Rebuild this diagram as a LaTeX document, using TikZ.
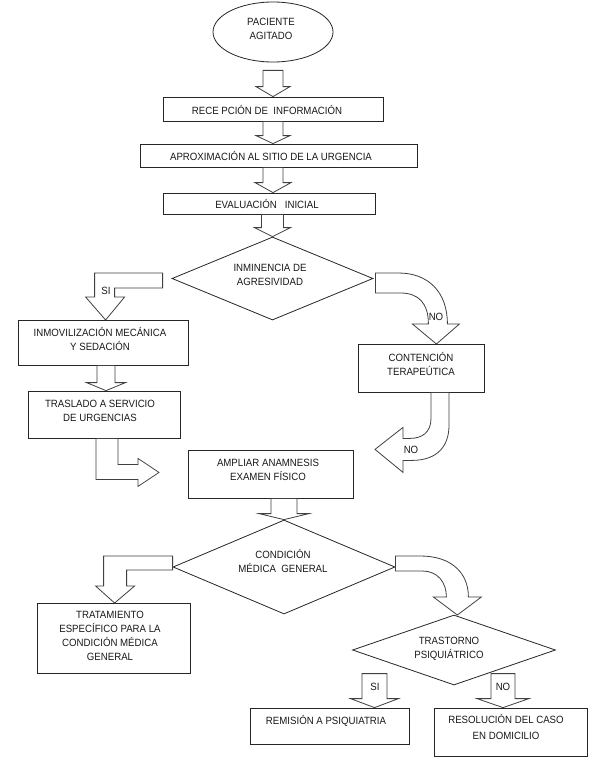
\documentclass[tikz,border=0pt]{standalone}
\usepackage{fontspec}
\setmainfont{Liberation Sans}[FakeStretch=0.92]
\usetikzlibrary{shapes.geometric,calc}
\tikzset{
  box/.style={draw=black!85, line width=0.8pt, rectangle, inner sep=0pt},
  dia/.style={draw=black!85, line width=0.8pt, diamond, inner sep=0pt},
  txt/.style={align=center, inner sep=0pt, font=\fontsize{10.5}{14}\selectfont, text=black!90},
  blk/.style={draw=black!75, line width=0.8pt, line join=miter},
  lbl/.style={inner sep=0pt, font=\fontsize{10.5}{12}\selectfont, text=black!90}
}
% straight downward block arrow: start point, point giving tip height, half shaft, half head, head length
\newcommand\dnblk[5]{\draw[blk] let \p1=(#1), \p2=(#2) in
  ({\x1-#3pt},\y1) -- ({\x1+#3pt},\y1) -- ({\x1+#3pt},{\y2+#5pt}) -- ({\x1+#4pt},{\y2+#5pt})
  -- (\x1,\y2) -- ({\x1-#4pt},{\y2+#5pt}) -- ({\x1-#3pt},{\y2+#5pt}) -- cycle;}
\begin{document}
\begin{tikzpicture}[x=1pt,y=-1pt]
\useasboundingbox[fill=white] (0,0) rectangle (597,760);

% nodes
\node[draw=black!85, line width=0.8pt, ellipse, minimum width=120pt, minimum height=60pt, inner sep=0pt] (pac) at (273,32) {};
\node[txt] (tpac) at (271,29) {PACIENTE\\AGITADO};

\node[box, minimum width=220pt, minimum height=24pt] (recep) at (273,109) {};
\node[txt] (trecep) at (267,109.5) {RECE PCIÓN DE\ \ INFORMACIÓN};

\node[box, minimum width=277pt, minimum height=23pt] (aprox) at (278.5,155.5) {};
\node[txt] (taprox) at (271,155.5) {APROXIMACIÓN AL SITIO DE LA URGENCIA};

\node[box, minimum width=212pt, minimum height=21pt] (eval) at (269,203.5) {};
\node[txt] (teval) at (267,203.5) {EVALUACIÓN\ \ \ INICIAL};

\node[dia, minimum width=201pt, minimum height=83pt] (d1) at (272.5,278.5) {};
\node[txt] (td1) at (270,275) {INMINENCIA DE\\AGRESIVIDAD};

\node[box, minimum width=170pt, minimum height=45pt] (inmov) at (103,342.5) {};
\node[txt] (tinmov) at (100,339) {INMOVILIZACIÓN MECÁNICA\\Y SEDACIÓN};

\node[box, minimum width=152pt, minimum height=47pt] (tras) at (104,414.5) {};
\node[txt] (ttras) at (100,410.5) {TRASLADO A SERVICIO\\DE URGENCIAS};

\node[box, minimum width=126pt, minimum height=48pt] (cont) at (421,368) {};
\node[txt] (tcont) at (421,364) {CONTENCIÓN\\TERAPEÚTICA};

\node[box, minimum width=165pt, minimum height=48pt] (ampl) at (270.5,474) {};
\node[txt] (tampl) at (268,470) {AMPLIAR ANAMNESIS\\EXAMEN FÍSICO};

\node[dia, minimum width=222pt, minimum height=94pt] (d2) at (284,567) {};
\node[txt] (td2) at (283,560.5) {CONDICIÓN\\MÉDICA\ \ GENERAL};

\node[box, minimum width=153pt, minimum height=70pt] (trat) at (113.5,638) {};
\node[txt] (ttrat) at (110,635.5) {TRATAMIENTO\\ESPECÍFICO PARA LA\\CONDICIÓN MÉDICA\\GENERAL};

\node[dia, minimum width=203pt, minimum height=70pt] (d3) at (454,650) {};
\node[txt] (td3) at (449,648.5) {TRASTORNO\\PSIQUIÁTRICO};

\node[box, minimum width=159pt, minimum height=36pt] (rem) at (329.5,726) {};
\node[txt] (trem) at (326,721) {REMISIÓN A PSIQUIATRIA};

\node[box, minimum width=153pt, minimum height=48pt] (res) at (510.5,732) {};
\node[txt, font=\fontsize{10.5}{16}\selectfont] (tres) at (506,726.5) {RESOLUCIÓN DEL CASO\\EN DOMICILIO};

% straight block arrows
\dnblk{$(pac.south)+(0,8)$}{recep.north}{10}{17}{10}
\dnblk{pac.south |- recep.south}{aprox.north}{10}{17}{8}
\dnblk{pac.south |- aprox.south}{eval.north}{10}{18}{10}
\dnblk{d1.north |- eval.south}{d1.north}{11}{18}{9}
\dnblk{$(inmov.south)+(3,0)$}{tras.north}{9}{19.5}{8}
\dnblk{ampl.south -| d2.north}{d2.north}{13}{25}{6}
\dnblk{$(rem.north)+(45,-34)$}{rem.north}{12.5}{24}{9}
\dnblk{$(res.north)+(-7.5,-34)$}{res.north}{12}{26}{9}

% bent block arrows
\draw[blk, shift={(d1.west)}] (-9,-5.5) -- (-77,-5.5) -- (-77,18.5) -- (-86,18.5) -- (-66,41.5)
  -- (-47,18.5) -- (-57,18.5) -- (-57,9.5) -- (-9,9.5) -- cycle;
\node[lbl] (lsi1) at (106,291) {SI};

\draw[blk, shift={(tras.south)}] (-8,0) -- (-8,41) -- (34,41) -- (34,48) -- (55,34) -- (34,20)
  -- (34,26) -- (14,26) -- (14,0) -- cycle;

\draw[blk, shift={(d1.east)}] (2,-5.5) -- (25,-5.5) .. controls (55,-5.5) and (74,13.5) .. (74,45.5)
  -- (86,45.5) -- (63,65.5) -- (39,45.5) -- (55,45.5) .. controls (55,24.5) and (45,14.5) .. (27,14.5)
  -- (2,14.5) -- cycle;
\node[lbl] (lno1) at (436,317) {NO};

\draw[blk, shift={(cont.south)}] (10,0) -- (10,26) .. controls (10,40) and (1,46) .. (-11,46)
  -- (-18,46) -- (-18,35) -- (-46,57) -- (-18,80) -- (-18,68) -- (-9,68)
  .. controls (17,68) and (28,53) .. (28,33) -- (28,0) -- cycle;
\node[lbl] (lno2) at (411,450) {NO};

\draw[blk, shift={(d2.west)}] (0,-11) -- (-69,-11) -- (-69,19) -- (-77,19) -- (-58,36) -- (-38,19)
  -- (-46,19) -- (-46,3) -- (0,3) -- cycle;

\draw[blk, shift={(d2.east)}] (0,-11) -- (25,-11) .. controls (55,-11) and (73,5) .. (73,30)
  -- (86,30) -- (62,48) -- (38,30) -- (51,30) .. controls (51,15) and (42,4) .. (27,4) -- (0,4) -- cycle;

\node[lbl] (lsi2) at (375,687) {SI};
\node[lbl] (lno3) at (503,687) {NO};
\end{tikzpicture}
\end{document}
